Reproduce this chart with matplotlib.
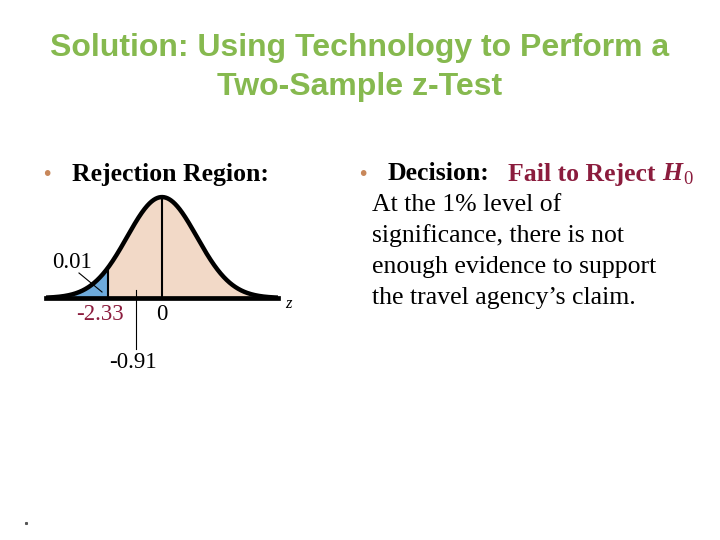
import numpy as np
import matplotlib
matplotlib.use("Agg")
import matplotlib.pyplot as plt

# ---- data ----
title_lines = ["Solution: Using Technology to Perform a", "Two-Sample z-Test"]
z_critical = -2.33
z_stat = -0.91
alpha_label = "0.01"
tick_labels = ["-2.33", "0", "-0.91"]
decision_lines = ["At the 1% level of", "significance, there is not",
                  "enough evidence to support", "the travel agency\u2019s claim."]

# stylized (not-to-scale) drawing positions, in curve sigma units
draw_crit = -1.55
draw_stat = -0.74

W, H = 720, 540
fig = plt.figure(figsize=(7.2, 5.4), dpi=100)
fig.patch.set_facecolor("white")

ov = fig.add_axes([0, 0, 1, 1])
ov.set_xlim(0, W)
ov.set_ylim(H, 0)
ov.axis("off")
ov.set_zorder(3)

green = "#86b94f"
maroon = "#8b1c3d"
bullet_col = "#c8875a"
serif = "Liberation Serif"

ov.text(360, 48, title_lines[0], ha="center", va="center", fontsize=23,
        fontweight="bold", color=green, family="Liberation Sans")
ov.text(360, 87, title_lines[1], ha="center", va="center", fontsize=23,
        fontweight="bold", color=green, family="Liberation Sans")

BODY = 18.5
ov.text(47, 174, "\u2022", ha="center", va="center", fontsize=14, color=bullet_col)
ov.text(72, 174, "Rejection Region:", ha="left", va="center", fontsize=BODY,
        fontweight="bold", family=serif, color="black")

ov.text(363, 174, "\u2022", ha="center", va="center", fontsize=14, color=bullet_col)
ov.text(388, 174, "Decision:", ha="left", va="center", fontsize=BODY,
        fontweight="bold", family=serif, color="black")

renderer = fig.canvas.get_renderer()
inv = ov.transData.inverted()
t1 = ov.text(508, 174, "Fail to Reject ", ha="left", va="center", fontsize=BODY,
             fontweight="bold", family=serif, color=maroon)
bb = t1.get_window_extent(renderer)
x_end = inv.transform((bb.x1, bb.y0))[0]
t2 = ov.text(x_end, 174, "H", ha="left", va="center", fontsize=BODY,
             fontweight="bold", style="italic", family=serif, color=maroon)
bb2 = t2.get_window_extent(renderer)
x_end2 = inv.transform((bb2.x1, bb2.y0))[0]
ov.text(x_end2 + 1, 180, "0", ha="left", va="center", fontsize=BODY * 0.72,
        family=serif, color=maroon)

for i, line in enumerate(decision_lines):
    ov.text(372, 205 + 31 * i, line, ha="left", va="center", fontsize=BODY,
            family=serif, color="black")

ov.plot([26], [523], marker="s", ms=1.2, color="#555555")

# ---- normal curve axes ----
left_px, right_px, base_px = 46, 278, 298
ymax = 0.42
h_px = ymax * 253
ax = fig.add_axes([left_px / W, (H - base_px) / H, (right_px - left_px) / W, h_px / H])
ax.set_zorder(1)
xl = 3.33
ax.set_xlim(-xl, xl)
ax.set_ylim(0, ymax)
ax.axis("off")

z = np.linspace(-xl, xl, 801)
pdf = np.exp(-z ** 2 / 2) / np.sqrt(2 * np.pi)
peach = "#f2d9c7"
blue = "#6eaadb"
ax.fill_between(z, 0, pdf, where=z >= draw_crit - 0.005, color=peach, lw=0)
ax.fill_between(z, 0, pdf, where=z <= draw_crit + 0.005, color=blue, lw=0)
pc = np.exp(-draw_crit ** 2 / 2) / np.sqrt(2 * np.pi)
p0 = 1 / np.sqrt(2 * np.pi)
ax.plot([draw_crit, draw_crit], [0, pc], color="black", lw=1.5)
ax.plot([0, 0], [0, p0], color="black", lw=1.5)
ax.plot(z, pdf, color="black", lw=3.2, solid_capstyle="butt")
ax.plot([-xl, xl], [0, 0], color="black", lw=3.4, clip_on=False)
ax.plot([draw_stat, draw_stat], [0.03, -0.2], color="black", lw=0.8, clip_on=False)

# annotations
LBL = 16.5
ov.text(72, 262, alpha_label, ha="center", va="center", fontsize=LBL,
        family=serif, color="black")
ov.plot([79, 102], [273, 292], color="black", lw=0.8)
ov.text(100, 315, tick_labels[0], ha="center", va="center", fontsize=LBL,
        family=serif, color=maroon)
ov.text(162, 315, tick_labels[1], ha="center", va="center", fontsize=LBL,
        family=serif, color="black")
ov.text(133, 362, tick_labels[2], ha="center", va="center", fontsize=LBL,
        family=serif, color="black")
ov.text(288, 304, "z", ha="center", va="center", fontsize=12, style="italic",
        family=serif, color="black")

fig.savefig("out.png", dpi=100)
